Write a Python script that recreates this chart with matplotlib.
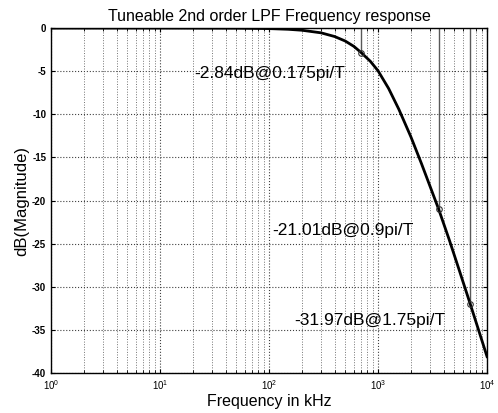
import numpy as np
import matplotlib
matplotlib.use("Agg")
import matplotlib.pyplot as plt
from matplotlib.ticker import LogLocator, FixedLocator, NullFormatter

# ------------------------------------------------------------
# Data
# ------------------------------------------------------------

freq_khz = [1, 10, 50, 100, 150, 200, 300, 400, 500, 600, 700,
            850, 1000, 1250, 1550, 2000, 2500, 3000, 3600, 4500, 5500,
            7000, 8500, 10000]
mag_db = [0.0, 0.0, -0.015, -0.06, -0.14, -0.25, -0.55, -0.98, -1.5,
          -2.12, -2.84, -3.85, -4.95, -7.0, -9.4, -12.6, -15.7, -18.35,
          -21.01, -24.55, -27.9, -31.97, -35.3, -38.1]

mark_freq = [700, 3600, 7000]
mark_db = [-2.84, -21.01, -31.97]
mark_labels = ["-2.84dB@0.175pi/T", "-21.01dB@0.9pi/T", "-31.97dB@1.75pi/T"]

y_ticks = [0, -5, -10, -15, -20, -25, -30, -35, -40]

# label anchor positions (axes fraction)
label_pos = [(0.328, 0.868), (0.508, 0.412), (0.558, 0.152)]

plt.rcParams["font.family"] = ["Liberation Sans", "DejaVu Sans"]

fig = plt.figure(figsize=(4.98, 4.13), dpi=100)
ax = fig.add_axes([0.1024, 0.0969, 0.8756, 0.8351])

ax.set_xscale("log")
ax.set_xlim(1, 1e4)
ax.set_ylim(-40, 0)

# grid, MATLAB style dotted
ax.grid(True, which="major", axis="both", linestyle=":", color="0.25", linewidth=0.8)
ax.grid(True, which="minor", axis="x", linestyle=":", color="0.45", linewidth=0.7)

# stems from 0 dB down to the markers
ax.vlines(mark_freq, mark_db, 0, colors="0.35", linewidth=1.0, zorder=2)

ax.plot(freq_khz, mag_db, color="black", linewidth=2.0, zorder=3)
ax.plot(mark_freq, mark_db, linestyle="none", marker="o", markersize=4,
        markerfacecolor="none", markeredgecolor="0.2", markeredgewidth=0.8, zorder=4)

for (tx, ty), txt in zip(label_pos, mark_labels):
    ax.text(tx, ty, txt, transform=ax.transAxes, ha="left", va="center",
            fontsize=12.5, color="black", zorder=5)

ax.yaxis.set_major_locator(FixedLocator(y_ticks))
ax.set_yticklabels([str(v) for v in y_ticks], fontsize=7, fontweight="bold")
ax.xaxis.set_major_locator(LogLocator(base=10, numticks=10))
ax.xaxis.set_minor_locator(LogLocator(base=10, subs=np.arange(2, 10), numticks=100))
ax.xaxis.set_minor_formatter(NullFormatter())
ax.tick_params(axis="x", which="major", labelsize=7)
ax.tick_params(which="both", direction="in", top=True, right=True, length=3)
ax.tick_params(which="minor", length=2)

for s in ax.spines.values():
    s.set_linewidth(1.0)
    s.set_color("black")

ax.set_title("Tuneable 2nd order LPF Frequency response", fontsize=11.5, pad=5)
ax.set_xlabel("Frequency in kHz", fontsize=11.5, labelpad=2)
ax.set_ylabel("dB(Magnitude)", fontsize=12, labelpad=2)

fig.savefig("out.png", dpi=100)
